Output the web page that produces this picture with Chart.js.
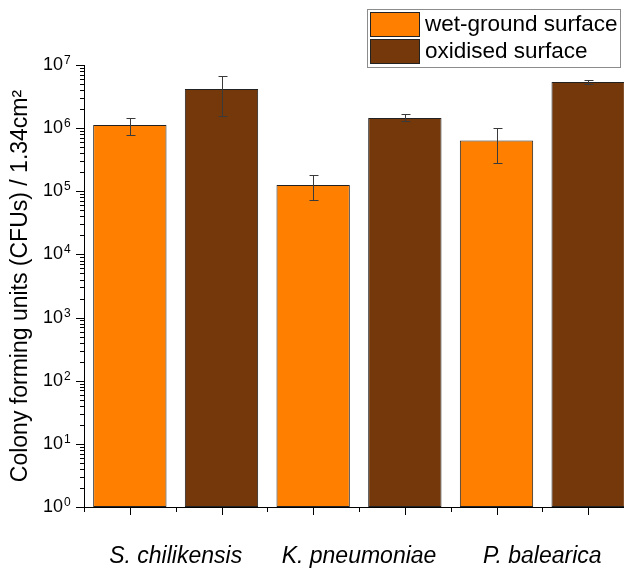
<!DOCTYPE html>
<html>
<head>
<meta charset="utf-8">
<title>Colony forming units</title>
<script src="https://cdn.jsdelivr.net/npm/chart.js@4.4.1/dist/chart.umd.min.js"></script>
<style>
  html, body { margin: 0; padding: 0; background: #fff; overflow: hidden; }
  #wrap { width: 640px; height: 568px; position: relative; }
</style>
</head>
<body>
<div id="wrap"><canvas id="cfuChart"></canvas></div>
<script>
// Values
const species = ["S. chilikensis", "K. pneumoniae", "P. balearica"];
const seriesNames = ["wet-ground surface", "oxidised surface"];
const seriesColors = ["#ff8000", "#74380a"];

const wetGround = [1.12e6, 1.26e5, 6.4e5];
const wetGroundLow = [7.8e5, 7.2e4, 2.8e5];
const wetGroundHigh = [1.43e6, 1.79e5, 9.9e5];

const oxidised = [4.17e6, 1.45e6, 5.38e6];
const oxidisedLow = [1.56e6, 1.31e6, 4.94e6];
const oxidisedHigh = [6.8e6, 1.66e6, 5.85e6];

const FONT = "'Liberation Sans', Arial, sans-serif";

// One slot per bar: wet-ground then oxidised for each species
const slots = [];
const wetData = [], wetLow = [], wetHigh = [];
const oxData = [], oxLow = [], oxHigh = [];
species.forEach((name, i) => {
    slots.push(name + " - " + seriesNames[0]);
    wetData.push(wetGround[i]); wetLow.push(wetGroundLow[i]); wetHigh.push(wetGroundHigh[i]);
    oxData.push(null); oxLow.push(null); oxHigh.push(null);

    slots.push(name + " - " + seriesNames[1]);
    wetData.push(null); wetLow.push(null); wetHigh.push(null);
    oxData.push(oxidised[i]); oxLow.push(oxidisedLow[i]); oxHigh.push(oxidisedHigh[i]);
});

function powerOf(value) {
    const e = Math.round(Math.log10(value));
    return Math.abs(Math.pow(10, e) - value) > 1e-6 * value ? null : e;
}

// Error bars drawn from the y scale
const errorBars = {
    id: "errorBars",
    afterDatasetsDraw(chart) {
        const ctx = chart.ctx;
        const y = chart.scales.y;
        ctx.save();
        ctx.strokeStyle = "#3a3a3a";
        ctx.lineWidth = 1;
        chart.data.datasets.forEach((ds, di) => {
            const meta = chart.getDatasetMeta(di);
            meta.data.forEach((bar, i) => {
                if (ds.data[i] == null) return;
                const x = Math.round(bar.x) + 0.5;
                const top = Math.round(y.getPixelForValue(ds.errHigh[i])) + 0.5;
                const bot = Math.round(y.getPixelForValue(ds.errLow[i])) + 0.5;
                ctx.beginPath();
                ctx.moveTo(x, top); ctx.lineTo(x, bot);
                ctx.moveTo(x - 4, top); ctx.lineTo(x + 5, top);
                ctx.moveTo(x - 4, bot); ctx.lineTo(x + 5, bot);
                ctx.stroke();
            });
        });
        ctx.restore();
    }
};

// Outward tick marks (long majors, short minors) and the exponents of the y labels
const tickMarks = {
    id: "tickMarks",
    afterDraw(chart) {
        const ctx = chart.ctx;
        const area = chart.chartArea;
        const y = chart.scales.y;
        const x = chart.scales.x;
        ctx.save();
        ctx.strokeStyle = "#000";
        ctx.lineWidth = 1;
        ctx.beginPath();
        y.ticks.forEach(t => {
            const e = Math.floor(Math.log10(t.value) + 1e-9);
            const m = t.value / Math.pow(10, e);
            if (Math.abs(m - Math.round(m)) > 1e-6) return;
            const len = Math.round(m) === 1 ? 8 : 4;
            const py = Math.round(y.getPixelForValue(t.value)) + 0.5;
            ctx.moveTo(area.left - len, py);
            ctx.lineTo(area.left, py);
        });
        for (let i = 0; i < slots.length; i++) {
            const px = Math.round(x.getPixelForValue(i)) + 0.5;
            ctx.moveTo(px, area.bottom); ctx.lineTo(px, area.bottom + 8);
        }
        for (let i = 0; i <= slots.length; i++) {
            const px = Math.round(x.getPixelForValue(i - 0.5)) + 0.5;
            ctx.moveTo(px, area.bottom); ctx.lineTo(px, area.bottom + 5);
        }
        ctx.stroke();

        // superscript exponent next to each "10"
        ctx.fillStyle = "#000";
        ctx.font = "12px " + FONT;
        ctx.textAlign = "left";
        ctx.textBaseline = "alphabetic";
        y.ticks.forEach(t => {
            const e = powerOf(t.value);
            if (e === null) return;
            const py = y.getPixelForValue(t.value);
            ctx.fillText(String(e), area.left - y.options.ticks.padding + 1, py - 1);
        });
        ctx.restore();
    }
};

// Boxed legend in the top right corner
const boxLegend = {
    id: "boxLegend",
    afterDraw(chart) {
        const ctx = chart.ctx;
        const left = 367, top = 9, w = 253, h = 58;
        ctx.save();
        ctx.fillStyle = "#fff";
        ctx.fillRect(left, top, w, h);
        ctx.strokeStyle = "#8c8c8c";
        ctx.lineWidth = 1;
        ctx.strokeRect(left + 0.5, top + 0.5, w, h);
        ctx.font = "22.5px " + FONT;
        ctx.textBaseline = "middle";
        chart.data.datasets.forEach((ds, i) => {
            const sy = top + 3 + i * 27;
            ctx.fillStyle = ds.backgroundColor;
            ctx.fillRect(left + 3, sy, 49, 24);
            ctx.strokeStyle = "#222";
            ctx.strokeRect(left + 3.5, sy + 0.5, 49, 24);
            ctx.fillStyle = "#000";
            ctx.fillText(ds.label, left + 58, sy + 13);
        });
        ctx.restore();
    }
};

const ctx = document.getElementById("cfuChart").getContext("2d");
const chart = new Chart(ctx, {
    type: "bar",
    data: {
        labels: slots,
        datasets: [
            {
                label: seriesNames[0],
                data: wetData,
                errLow: wetLow,
                errHigh: wetHigh,
                backgroundColor: seriesColors[0],
                borderColor: "#222",
                borderWidth: 1,
                borderSkipped: false,
                grouped: false,
                barPercentage: 0.8,
                categoryPercentage: 1
            },
            {
                label: seriesNames[1],
                data: oxData,
                errLow: oxLow,
                errHigh: oxHigh,
                backgroundColor: seriesColors[1],
                borderColor: "#222",
                borderWidth: 1,
                borderSkipped: false,
                grouped: false,
                barPercentage: 0.8,
                categoryPercentage: 1
            }
        ]
    },
    options: {
        responsive: true,
        maintainAspectRatio: false,
        animation: false,
        devicePixelRatio: 1,
        layout: { padding: { top: 65, right: 6, bottom: 0, left: 0 } },
        plugins: {
            legend: { display: false },
            tooltip: { enabled: false }
        },
        scales: {
            x: {
                type: "category",
                position: "bottom",
                offset: true,
                grid: { display: false, drawTicks: false },
                border: { display: true, color: "#000", width: 1 },
                ticks: { display: false },
                afterFit: s => { s.height = 0; }
            },
            xCat: {
                type: "category",
                position: "bottom",
                labels: species,
                offset: true,
                grid: { display: false, drawTicks: false },
                border: { display: false },
                ticks: {
                    color: "#000",
                    padding: 36,
                    font: { family: FONT, size: 23, style: "italic" }
                },
                afterFit: s => { s.height = 61; }
            },
            y: {
                type: "logarithmic",
                min: 1,
                max: 1e7,
                grid: { display: false, drawTicks: false },
                border: { display: true, color: "#000", width: 1 },
                ticks: {
                    autoSkip: false,
                    color: "#000",
                    padding: 21,
                    font: { family: FONT, size: 18 },
                    callback: (value) => powerOf(value) === null ? "" : "10"
                },
                title: {
                    display: true,
                    text: "Colony forming units (CFUs) / 1.34cm²",
                    color: "#000",
                    font: { family: FONT, size: 23 },
                    padding: { top: 7, bottom: 0 }
                },
                afterFit: s => { s.width = 84; }
            }
        }
    },
    plugins: [errorBars, tickMarks, boxLegend]
});
</script>
</body>
</html>
